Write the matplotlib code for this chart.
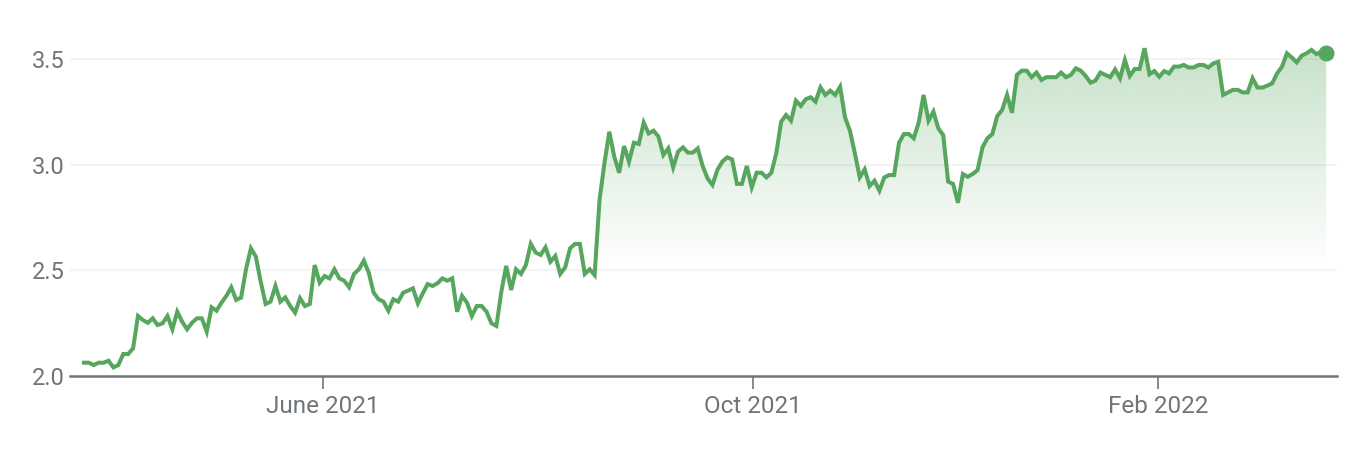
import numpy as np
import matplotlib
matplotlib.use("Agg")
import matplotlib.pyplot as plt
from matplotlib.colors import to_rgb

# price series, one value per trading day
prices = [
    2.063, 2.063, 2.052, 2.063, 2.063, 2.072, 2.041, 2.052, 2.104, 2.104,
    2.131, 2.284, 2.265, 2.252, 2.273, 2.241, 2.249, 2.284, 2.221, 2.304,
    2.257, 2.221, 2.252, 2.273, 2.273, 2.210, 2.325, 2.309, 2.347, 2.379,
    2.420, 2.360, 2.371, 2.505, 2.604, 2.565, 2.446, 2.341, 2.352, 2.426,
    2.352, 2.372, 2.331, 2.300,
    2.368, 2.331, 2.341, 2.525, 2.442, 2.473, 2.462, 2.505, 2.462, 2.451,
    2.420, 2.483, 2.505, 2.546, 2.489, 2.394, 2.363, 2.352, 2.309, 2.363,
    2.352, 2.394, 2.404, 2.415, 2.344, 2.391, 2.435, 2.426, 2.439, 2.462,
    2.451, 2.462, 2.304, 2.379, 2.347, 2.284, 2.331, 2.331, 2.304, 2.249,
    2.237, 2.399,
    2.521, 2.407, 2.505, 2.483, 2.525, 2.625, 2.584, 2.573, 2.609, 2.541,
    2.568, 2.483, 2.514, 2.604, 2.625, 2.625, 2.483, 2.505, 2.478, 2.833,
    3.007, 3.156, 3.038, 2.962, 3.088, 3.014, 3.104, 3.098, 3.199, 3.148,
    3.161, 3.133, 3.046, 3.077, 2.987, 3.062, 3.082, 3.057, 3.057, 3.077,
    2.994, 2.935,
    2.904, 2.975, 3.014, 3.035, 3.025, 2.909, 2.909, 2.994, 2.893, 2.962,
    2.962, 2.940, 2.962, 3.054, 3.204, 3.235, 3.208, 3.303, 3.278, 3.310,
    3.319, 3.298, 3.366, 3.330, 3.350, 3.330, 3.369, 3.224, 3.161, 3.054,
    2.940, 2.978, 2.899, 2.924, 2.877, 2.940, 2.951, 2.951, 3.104, 3.145,
    3.145, 3.125, 3.199, 3.330,
    3.208, 3.251, 3.172, 3.140, 2.920, 2.909, 2.820, 2.956, 2.943, 2.956,
    2.975, 3.082, 3.125, 3.145, 3.230, 3.259, 3.330, 3.246, 3.425, 3.445,
    3.445, 3.414, 3.436, 3.401, 3.414, 3.414, 3.414, 3.436, 3.414, 3.425,
    3.456, 3.445, 3.420, 3.388, 3.398, 3.436, 3.425, 3.414, 3.451, 3.409,
    3.495, 3.420,
    3.453, 3.453, 3.551, 3.428, 3.443, 3.416, 3.443, 3.432, 3.464, 3.464,
    3.472, 3.460, 3.460, 3.472, 3.472, 3.460, 3.479, 3.487, 3.330, 3.342,
    3.354, 3.354, 3.342, 3.342, 3.409, 3.365, 3.365, 3.374, 3.385, 3.432,
    3.464, 3.527, 3.507, 3.484, 3.516, 3.527, 3.543, 3.523, 3.535, 3.527,
]

month_labels = ["June 2021", "Oct 2021", "Feb 2022"]
month_idx = [48.7, 136.3, 218.7]   # trading-day index of the first of each month
y_ticks = [2.0, 2.5, 3.0, 3.5]

green = "#57a65e"
grey_txt = "#70757a"

plt.rcParams['font.family'] = ['Roboto', 'DejaVu Sans']

x = np.arange(len(prices))
y = np.array(prices)

fig = plt.figure(figsize=(13.72, 4.5), dpi=100)
ax = fig.add_axes([0.051, 0.1644, 0.9235, 0.7467])

ax.set_xlim(-2.85, 255.2)
ax.set_ylim(2.0, 3.59)

# light grid lines (no line at the baseline)
for t in y_ticks[1:]:
    ax.axhline(t, color="#f3f3f3", lw=1.5, zorder=0)

# gradient area under the line
fill_bottom = 2.5
poly = ax.fill_between(x, y, fill_bottom, color="none", lw=0)
r, g, b = to_rgb(green)
grad = np.zeros((256, 1, 4))
grad[:, 0, 0] = r
grad[:, 0, 1] = g
grad[:, 0, 2] = b
grad[:, 0, 3] = np.linspace(0.33, 0.0, 256)
img = ax.imshow(grad, aspect="auto", extent=[x[0], x[-1], fill_bottom, 3.55],
                origin="upper", zorder=1, interpolation="bilinear")
img.set_clip_path(poly.get_paths()[0], transform=ax.transData)

ax.plot(x, y, color=green, lw=2.9, zorder=3, solid_joinstyle="miter")
ax.plot(x[-1], y[-1], "o", color=green, ms=10.5, zorder=4)

for s in ["top", "right", "left"]:
    ax.spines[s].set_visible(False)
ax.spines["bottom"].set_color(grey_txt)
ax.spines["bottom"].set_linewidth(1.8)

ax.set_yticks(y_ticks)
ax.set_yticklabels([f"{t:.1f}" for t in y_ticks])
ax.tick_params(axis="y", length=0, pad=4, labelsize=17, labelcolor=grey_txt)

ax.set_xticks(month_idx)
ax.set_xticklabels(month_labels)
ax.tick_params(axis="x", length=9, width=1.2, color=grey_txt, pad=5,
               labelsize=17.5, labelcolor=grey_txt)

plt.savefig("out.png", dpi=100)
plt.close()
